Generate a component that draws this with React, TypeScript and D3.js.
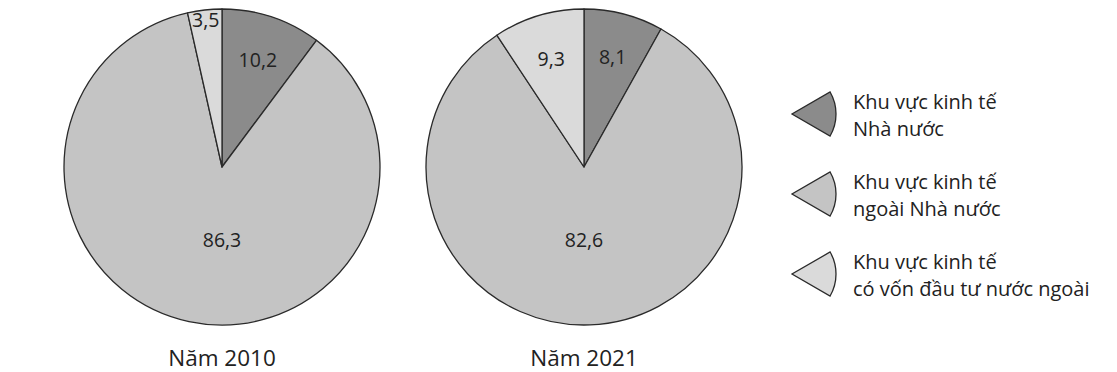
import React from "react";
import * as d3 from "d3";

const categories = [
  "Khu vực kinh tế Nhà nước",
  "Khu vực kinh tế ngoài Nhà nước",
  "Khu vực kinh tế có vốn đầu tư nước ngoài",
];
const legendLines = [
  ["Khu vực kinh tế", "Nhà nước"],
  ["Khu vực kinh tế", "ngoài Nhà nước"],
  ["Khu vực kinh tế", "có vốn đầu tư nước ngoài"],
];
const years = ["Năm 2010", "Năm 2021"];
const values2010 = [10.2, 86.3, 3.5];
const values2021 = [8.1, 82.6, 9.3];
const labels2010 = ["10,2", "86,3", "3,5"];
const labels2021 = ["8,1", "82,6", "9,3"];

const colors = ["#8b8b8b", "#c4c4c4", "#dadada"];
const stroke = "#2a2a2a";
const FONT = "'Open Sans', sans-serif";

const W = 1117;
const H = 372;
const R = 158;
const CY = 167;
const centersX = [222, 584];

function Pie({ cx, values, labels, title }: { cx: number; values: number[]; labels: string[]; title: string }) {
  const pie = d3.pie<number>().sort(null).value((d) => d)(values);
  const arc = d3.arc<d3.PieArcDatum<number>>().innerRadius(0).outerRadius(R);
  return (
    <g transform={`translate(${cx},${CY})`}>
      {pie.map((p, i) => (
        <path key={i} d={arc(p) || ""} fill={colors[i]} stroke={stroke} strokeWidth={1.3} strokeLinejoin="round" />
      ))}
      {pie.map((p, i) => {
        const mid = (p.startAngle + p.endAngle) / 2;
        const frac = (p.endAngle - p.startAngle) / (2 * Math.PI);
        let x: number, y: number;
        if (frac > 0.5) {
          x = 0;
          y = R * 0.46;
        } else {
          const rr = frac < 0.05 ? R * 0.94 : R * 0.72;
          x = Math.sin(mid) * rr;
          y = -Math.cos(mid) * rr;
        }
        return (
          <text key={"t" + i} x={x} y={y} textAnchor="middle" dominantBaseline="central" fontFamily={FONT} fontSize={19.5} fill="#222">
            {labels[i]}
          </text>
        );
      })}
      <text x={0} y={199} textAnchor="middle" fontFamily={FONT} fontSize={22.5} fill="#222">
        {title}
      </text>
    </g>
  );
}

export default function App() {
  const legendArc = d3
    .arc()
    .innerRadius(0)
    .outerRadius(44)
    .startAngle(Math.PI / 3)
    .endAngle((2 * Math.PI) / 3);
  const legendY = d3.scalePoint<string>().domain(categories).range([114, 274]);
  return (
    <svg width={W} height={H} style={{ position: "absolute", left: 0, top: 0, background: "#fff" }}>
      <Pie cx={centersX[0]} values={values2010} labels={labels2010} title={years[0]} />
      <Pie cx={centersX[1]} values={values2021} labels={labels2021} title={years[1]} />
      {categories.map((c, i) => {
        const y = legendY(c) as number;
        return (
          <g key={c}>
            <path d={(legendArc as any)() || ""} transform={`translate(792,${y})`} fill={colors[i]} stroke={stroke} strokeWidth={1.3} />
            {legendLines[i].map((ln, j) => (
              <text key={j} x={853} y={y - 5 + j * 27} fontFamily={FONT} fontSize={20} fill="#222">
                {ln}
              </text>
            ))}
          </g>
        );
      })}
    </svg>
  );
}
